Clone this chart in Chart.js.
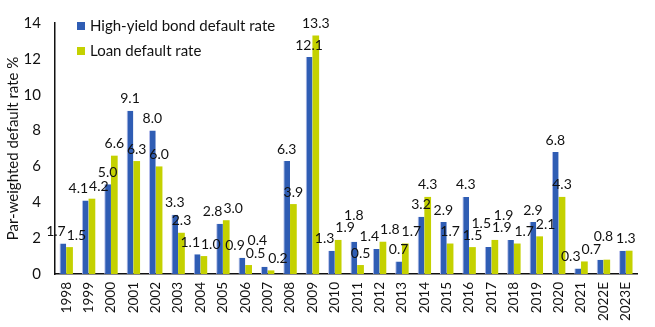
<!DOCTYPE html>
<html>
<head>
<meta charset="utf-8">
<script src="https://cdn.jsdelivr.net/npm/chart.js@4"></script>
<style>
  html, body { margin: 0; padding: 0; background: #fff; }
  #wrap { width: 655px; height: 327px; }
</style>
</head>
<body>
<div id="wrap"><canvas id="defaultChart" width="655" height="327"></canvas></div>
<script>
const years = ["1998", "1999", "2000", "2001", "2002", "2003", "2004", "2005", "2006",
  "2007", "2008", "2009", "2010", "2011", "2012", "2013", "2014", "2015", "2016",
  "2017", "2018", "2019", "2020", "2021", "2022E", "2023E"];
const highYield = [1.7, 4.1, 5.0, 9.1, 8.0, 3.3, 1.1, 2.8, 0.9, 0.4, 6.3, 12.1, 1.3,
  1.8, 1.4, 0.7, 3.2, 2.9, 4.3, 1.5, 1.9, 2.9, 6.8, 0.3, 0.8, 1.3];
const loan = [1.5, 4.2, 6.6, 6.3, 6.0, 2.3, 1.0, 3.0, 0.5, 0.2, 3.9, 13.3, 1.9,
  0.5, 1.8, 1.7, 4.3, 1.7, 1.5, 1.9, 1.7, 2.1, 4.3, 0.7, 0.8, 1.3];
const seriesNames = ["High-yield bond default rate", "Loan default rate"];
const yMax = 14;
const yStep = 2;

const BLUE = "#2f5db4";
const GREEN = "#c4d100";
const FONT = "Lato";

const ctx = document.getElementById("defaultChart").getContext("2d");

// value labels above the bars; a pair in one year is spread apart,
// then each label is nudged sideways or raised until it clears earlier ones
const valueLabels = {
  id: "valueLabels",
  afterDatasetsDraw(chart) {
    const c = chart.ctx;
    const hy = chart.getDatasetMeta(0).data;
    const ln = chart.getDatasetMeta(1).data;
    c.save();
    c.font = `14px ${FONT}`;
    c.fillStyle = "#111";
    c.textAlign = "center";
    c.textBaseline = "bottom";
    const gap = 5;
    const h = 12;
    const boxes = [];
    for (let i = 0; i < years.length; i++) {
      const a = hy[i], b = ln[i];
      if (highYield[i] === loan[i]) {
        const t = highYield[i].toFixed(1);
        boxes.push({ t, x: (a.x + b.x) / 2, y: Math.min(a.y, b.y) - gap, w: c.measureText(t).width });
        continue;
      }
      const p = { t: highYield[i].toFixed(1), x: a.x, y: a.y - gap };
      const q = { t: loan[i].toFixed(1), x: b.x, y: b.y - gap };
      p.w = c.measureText(p.t).width;
      q.w = c.measureText(q.t).width;
      if (Math.abs(p.y - q.y) < h) {
        const ov = (p.x + p.w / 2 + 1) - (q.x - q.w / 2);
        if (ov > 0) { p.x -= ov / 2; q.x += ov / 2; }
      }
      boxes.push(p, q);
    }
    const hits = (bx, placed) => placed.some((o) =>
      Math.abs(o.y - bx.y) < h &&
      Math.abs(o.x - bx.x) < (o.w + bx.w) / 2 + 1);
    const placed = [];
    boxes.forEach((bx) => {
      const others = placed.slice();
      let done = false;
      for (const dx of [0, 2, 4, 6]) {
        const cand = { ...bx, x: bx.x + dx };
        if (!hits(cand, others)) { Object.assign(bx, cand); done = true; break; }
      }
      while (!done) {
        bx.y -= 1;
        if (!hits(bx, others)) done = true;
      }
      placed.push(bx);
    });
    placed.forEach((bx) => c.fillText(bx.t, bx.x, bx.y));
    c.restore();
  }
};

// legend drawn inside the plot, top left
const insideLegend = {
  id: "insideLegend",
  afterDraw(chart) {
    const c = chart.ctx;
    const colors = [BLUE, GREEN];
    c.save();
    c.font = `15px ${FONT}`;
    c.textBaseline = "middle";
    c.textAlign = "left";
    seriesNames.forEach((name, i) => {
      const y = 26 + i * 25;
      c.fillStyle = colors[i];
      c.fillRect(77, y - 4, 8, 8);
      c.fillStyle = "#111";
      c.fillText(name, 90, y);
    });
    c.restore();
  }
};

new Chart(ctx, {
  type: "bar",
  data: {
    labels: years,
    datasets: [
      {
        label: seriesNames[0],
        data: highYield,
        backgroundColor: BLUE,
        borderColor: "#b4bdea",
        borderWidth: { left: 1, top: 0, right: 0, bottom: 0 },
        borderSkipped: false,
        categoryPercentage: 0.6,
        barPercentage: 1.0,
      },
      {
        label: seriesNames[1],
        data: loan,
        backgroundColor: GREEN,
        borderWidth: 0,
        categoryPercentage: 0.6,
        barPercentage: 1.0,
      },
    ],
  },
  options: {
    responsive: false,
    animation: false,
    layout: { padding: { top: 19, right: 18, bottom: 0, left: 0 } },
    plugins: {
      legend: { display: false },
      tooltip: { enabled: false },
    },
    scales: {
      x: {
        grid: { display: false, drawTicks: false },
        border: { display: true, color: "#111", width: 1.5 },
        ticks: {
          autoSkip: false,
          minRotation: 90,
          maxRotation: 90,
          padding: 8,
          color: "#111",
          font: { family: FONT, size: 13.5 },
        },
        afterFit(scale) { scale.height = 53; },
      },
      y: {
        min: 0,
        max: yMax,
        grid: { display: false, drawTicks: false },
        border: { display: true, color: "#111", width: 1.5 },
        ticks: {
          stepSize: yStep,
          padding: 14,
          color: "#111",
          font: { family: FONT, size: 15 },
        },
        title: {
          display: true,
          text: "Par-weighted default rate %",
          color: "#111",
          font: { family: FONT, size: 15 },
          padding: { top: 4, bottom: 4 },
        },
        afterFit(scale) { scale.width = 55; },
      },
    },
  },
  plugins: [valueLabels, insideLegend],
});
</script>
</body>
</html>
